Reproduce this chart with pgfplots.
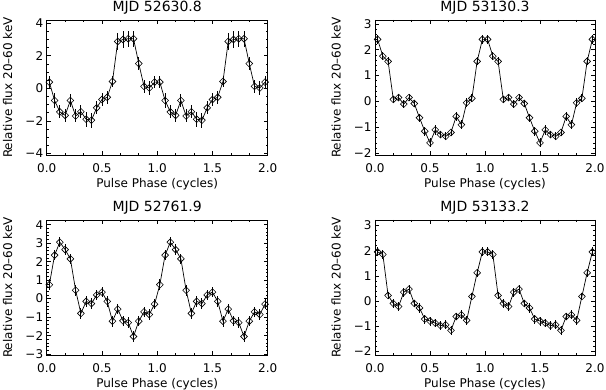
\documentclass[border=0pt]{standalone}
\usepackage{fontspec}
\setmainfont{DejaVu Sans}
\usepackage{pgfplots}
\usepackage{pgfplotstable}
\pgfplotsset{compat=1.18}

% phase, relative flux, error -- profile folded on 21 bins, drawn for two cycles
\pgfplotstableread{
x y e
0.0238 0.38 0.35
0.0714 -0.75 0.45
0.1190 -1.45 0.40
0.1667 -1.66 0.40
0.2143 -0.75 0.40
0.2619 -1.70 0.40
0.3095 -1.44 0.40
0.3571 -1.90 0.45
0.4048 -1.96 0.45
0.4524 -1.20 0.40
0.5000 -0.69 0.40
0.5476 -0.55 0.40
0.5952 0.42 0.35
0.6429 2.88 0.50
0.6905 3.00 0.50
0.7381 3.05 0.50
0.7857 3.05 0.50
0.8333 1.52 0.40
0.8810 0.12 0.40
0.9286 0.02 0.45
0.9762 0.38 0.35
1.0238 0.38 0.35
1.0714 -0.75 0.45
1.1190 -1.45 0.40
1.1667 -1.66 0.40
1.2143 -0.75 0.40
1.2619 -1.70 0.40
1.3095 -1.44 0.40
1.3571 -1.90 0.45
1.4048 -1.96 0.45
1.4524 -1.20 0.40
1.5000 -0.69 0.40
1.5476 -0.55 0.40
1.5952 0.42 0.35
1.6429 2.88 0.50
1.6905 3.00 0.50
1.7381 3.05 0.50
1.7857 3.05 0.50
1.8333 1.52 0.40
1.8810 0.12 0.40
1.9286 0.02 0.45
1.9762 0.38 0.35
}\tabA

\pgfplotstableread{
x y e
0.0238 2.40 0.18
0.0714 1.75 0.15
0.1190 1.55 0.15
0.1667 0.08 0.15
0.2143 0.15 0.15
0.2619 -0.10 0.15
0.3095 0.15 0.15
0.3571 -0.08 0.15
0.4048 -0.63 0.15
0.4524 -1.15 0.18
0.5000 -1.60 0.18
0.5476 -1.10 0.18
0.5952 -1.28 0.15
0.6429 -1.35 0.15
0.6905 -1.20 0.15
0.7381 -0.58 0.18
0.7857 -0.90 0.18
0.8333 -0.05 0.18
0.8810 0.12 0.15
0.9286 1.55 0.15
0.9762 2.40 0.18
1.0238 2.40 0.18
1.0714 1.75 0.15
1.1190 1.55 0.15
1.1667 0.08 0.15
1.2143 0.15 0.15
1.2619 -0.10 0.15
1.3095 0.15 0.15
1.3571 -0.08 0.15
1.4048 -0.63 0.15
1.4524 -1.15 0.18
1.5000 -1.60 0.18
1.5476 -1.10 0.18
1.5952 -1.28 0.15
1.6429 -1.35 0.15
1.6905 -1.20 0.15
1.7381 -0.58 0.18
1.7857 -0.90 0.18
1.8333 -0.05 0.18
1.8810 0.12 0.15
1.9286 1.55 0.15
1.9762 2.40 0.18
}\tabB

\pgfplotstableread{
x y e
0.0238 0.75 0.30
0.0714 2.35 0.28
0.1190 3.05 0.28
0.1667 2.65 0.28
0.2143 2.15 0.28
0.2619 0.45 0.30
0.3095 -0.80 0.28
0.3571 -0.15 0.30
0.4048 -0.27 0.28
0.4524 0.20 0.28
0.5000 0.35 0.28
0.5476 -0.15 0.28
0.5952 -1.22 0.30
0.6429 -0.57 0.28
0.6905 -1.20 0.28
0.7381 -1.30 0.30
0.7857 -2.05 0.30
0.8333 -1.22 0.28
0.8810 -0.72 0.28
0.9286 -0.86 0.28
0.9762 -0.30 0.28
1.0238 0.75 0.30
1.0714 2.35 0.28
1.1190 3.05 0.28
1.1667 2.65 0.28
1.2143 2.15 0.28
1.2619 0.45 0.30
1.3095 -0.80 0.28
1.3571 -0.15 0.30
1.4048 -0.27 0.28
1.4524 0.20 0.28
1.5000 0.35 0.28
1.5476 -0.15 0.28
1.5952 -1.22 0.30
1.6429 -0.57 0.28
1.6905 -1.20 0.28
1.7381 -1.30 0.30
1.7857 -2.05 0.30
1.8333 -1.22 0.28
1.8810 -0.72 0.28
1.9286 -0.86 0.28
1.9762 -0.30 0.28
}\tabC

\pgfplotstableread{
x y e
0.0238 1.95 0.18
0.0714 1.85 0.18
0.1190 0.22 0.15
0.1667 -0.10 0.18
0.2143 -0.22 0.18
0.2619 0.35 0.18
0.3095 0.47 0.18
0.3571 -0.10 0.15
0.4048 -0.28 0.18
0.4524 -0.72 0.18
0.5000 -0.80 0.18
0.5476 -0.88 0.15
0.5952 -0.98 0.18
0.6429 -0.95 0.18
0.6905 -1.17 0.18
0.7381 -0.62 0.15
0.7857 -0.55 0.18
0.8333 -0.77 0.18
0.8810 0.18 0.15
0.9286 1.12 0.15
0.9762 1.95 0.18
1.0238 1.95 0.18
1.0714 1.85 0.18
1.1190 0.22 0.15
1.1667 -0.10 0.18
1.2143 -0.22 0.18
1.2619 0.35 0.18
1.3095 0.47 0.18
1.3571 -0.10 0.15
1.4048 -0.28 0.18
1.4524 -0.72 0.18
1.5000 -0.80 0.18
1.5476 -0.88 0.15
1.5952 -0.98 0.18
1.6429 -0.95 0.18
1.6905 -1.17 0.18
1.7381 -0.62 0.15
1.7857 -0.55 0.18
1.8333 -0.77 0.18
1.8810 0.18 0.15
1.9286 1.12 0.15
1.9762 1.95 0.18
}\tabD

\pgfplotsset{
  pulse/.style={
    scale only axis, height=135pt,
    xmin=0, xmax=2, xtick={0,0.5,1,1.5,2}, minor x tick num=2,
    tick pos=both, tick align=inside,
    major tick length=4pt, minor tick length=2pt,
    axis line style={line width=0.6pt},
    every tick/.style={black, line width=0.6pt},
    /pgf/number format/assume math mode=true,
    tick label style={font=\fontsize{12}{14}\selectfont},
    x tick label style={/pgf/number format/fixed, /pgf/number format/fixed zerofill,
      /pgf/number format/precision=1, anchor=center, yshift=-13pt},
    label style={font=\fontsize{12}{14}\selectfont},
    xlabel={Pulse Phase (cycles)},
    ylabel={Relative flux 20--60 keV},
    xlabel style={at={(axis description cs:0.5,-0.215)}, anchor=center},
    ylabel style={at={(axis description cs:-0.177,0.5)}, anchor=center},
    title style={at={(axis description cs:0.5,1)}, anchor=base, yshift=2.5pt,
      inner sep=0pt, font=\fontsize{14}{16}\selectfont},
  },
  prof/.style={black, line width=0.7pt, mark=square, mark size=2.4pt,
    mark options={rotate=45, solid, line width=0.6pt},
    error bars/.cd, y dir=both, y explicit, error mark=none,
    error bar style={line width=0.9pt}},
}

\begin{document}
\begin{tikzpicture}
\useasboundingbox (0,0) rectangle (606pt,389pt);

\begin{axis}[pulse, at={(46.7pt,234pt)}, anchor=south west, width=221pt,
  title={MJD 52630.8}, ymin=-4.1, ymax=4.2,
  ytick={-4,-2,0,2,4}, yticklabels={−4,−2,0,2,4}, minor y tick num=3]
\addplot[prof] table[x=x, y=y, y error=e] {\tabA};
\end{axis}

\begin{axis}[pulse, at={(375pt,234pt)}, anchor=south west, width=220pt,
  title={MJD 53130.3}, ymin=-2.07, ymax=3.15,
  ytick={-2,-1,0,1,2,3}, yticklabels={−2,−1,0,1,2,3}, minor y tick num=4]
\addplot[prof] table[x=x, y=y, y error=e] {\tabB};
\end{axis}

\begin{axis}[pulse, at={(46.7pt,34pt)}, anchor=south west, width=221pt,
  title={MJD 52761.9}, ymin=-3.05, ymax=4.25,
  ytick={-3,-2,-1,0,1,2,3,4}, yticklabels={−3,−2,−1,0,1,2,3,4}, minor y tick num=4]
\addplot[prof] table[x=x, y=y, y error=e] {\tabC};
\end{axis}

\begin{axis}[pulse, at={(375pt,34pt)}, anchor=south west, width=220pt,
  title={MJD 53133.2}, ymin=-2.15, ymax=3.22,
  ytick={-2,-1,0,1,2,3}, yticklabels={−2,−1,0,1,2,3}, minor y tick num=4]
\addplot[prof] table[x=x, y=y, y error=e] {\tabD};
\end{axis}
\end{tikzpicture}
\end{document}
